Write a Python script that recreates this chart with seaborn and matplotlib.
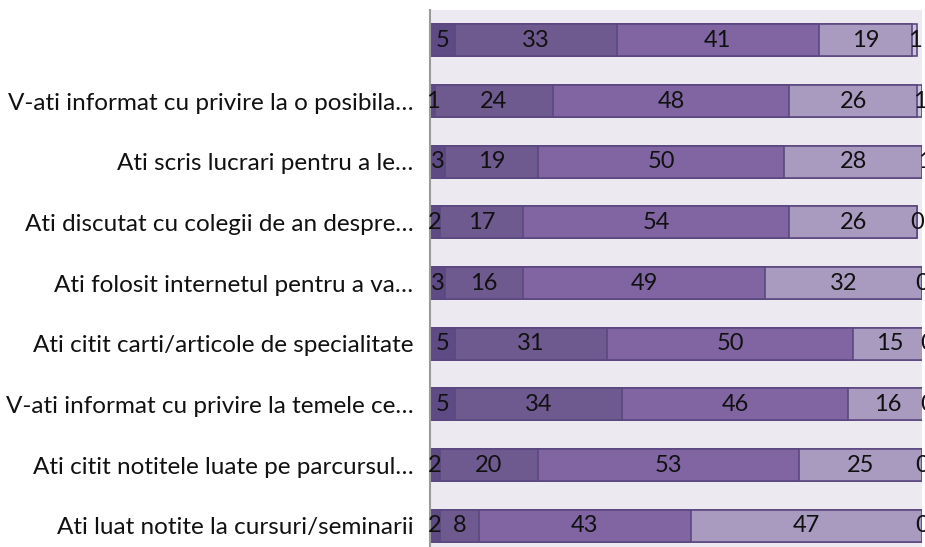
import matplotlib
matplotlib.use("Agg")
import matplotlib.pyplot as plt
import numpy as np
import pandas as pd
import seaborn as sns

# rows from top to bottom
labels = ["",
          "V-ati informat cu privire la o posibila…",
          "Ati scris lucrari pentru a le…",
          "Ati discutat cu colegii de an despre…",
          "Ati folosit internetul pentru a va…",
          "Ati citit carti/articole de specialitate",
          "V-ati informat cu privire la temele ce…",
          "Ati citit notitele luate pe parcursul…",
          "Ati luat notite la cursuri/seminarii"]
s1 = [5, 1, 3, 2, 3, 5, 5, 2, 2]
s2 = [33, 24, 19, 17, 16, 31, 34, 20, 8]
s3 = [41, 48, 50, 54, 49, 50, 46, 53, 43]
s4 = [19, 26, 28, 26, 32, 15, 16, 25, 47]
s5 = [1, 1, 1, 0, 0, 0, 0, 0, 0]

colors = ["#5E4A84", "#6F5A90", "#8065A2", "#A99BC0", "#CBC2DC"]
edge = "#5B4880"

sns.set_theme(style="white")
plt.rcParams['font.family'] = ['Lato', 'DejaVu Sans']

series = [s1, s2, s3, s4, s5]
rows = [f"r{i}" for i in range(len(labels))]
df = pd.DataFrame({"row": rows})
cum = np.cumsum(np.array(series), axis=0)

fig = plt.figure(figsize=(9.25, 5.47), dpi=100)
ax = fig.add_axes([430 / 925, -9 / 547, 492 / 925, 546 / 547])
ax.set_facecolor("#ECEAF0")

# draw from the full stack down so the shorter cumulative bars sit on top
for k in range(4, -1, -1):
    d = df.copy()
    d["val"] = cum[k]
    sns.barplot(data=d, x="val", y="row", order=rows, orient="h",
                color=colors[k], edgecolor=edge, linewidth=1.2,
                width=0.53, saturation=1, ax=ax)

for i in range(len(rows)):
    left = 0
    for k in range(5):
        v = series[k][i]
        ax.text(left + v / 2, i, str(v), ha="center", va="center",
                fontsize=17, color="#111111", clip_on=False)
        left += v

ax.set_xlim(0, 100)
ax.set_ylim(len(rows) - 0.5, -0.5)
ax.set_yticks(range(len(rows)))
ax.set_yticklabels(labels, fontsize=17.5, color="#111111")
ax.tick_params(axis="y", length=0, pad=12)
ax.set_xticks([])
ax.set_xlabel("")
ax.set_ylabel("")
for s in ["top", "right", "bottom"]:
    ax.spines[s].set_visible(False)
ax.spines["left"].set_color("#9A9A9A")
ax.spines["left"].set_linewidth(1.5)

fig.savefig("out.png", dpi=100)
